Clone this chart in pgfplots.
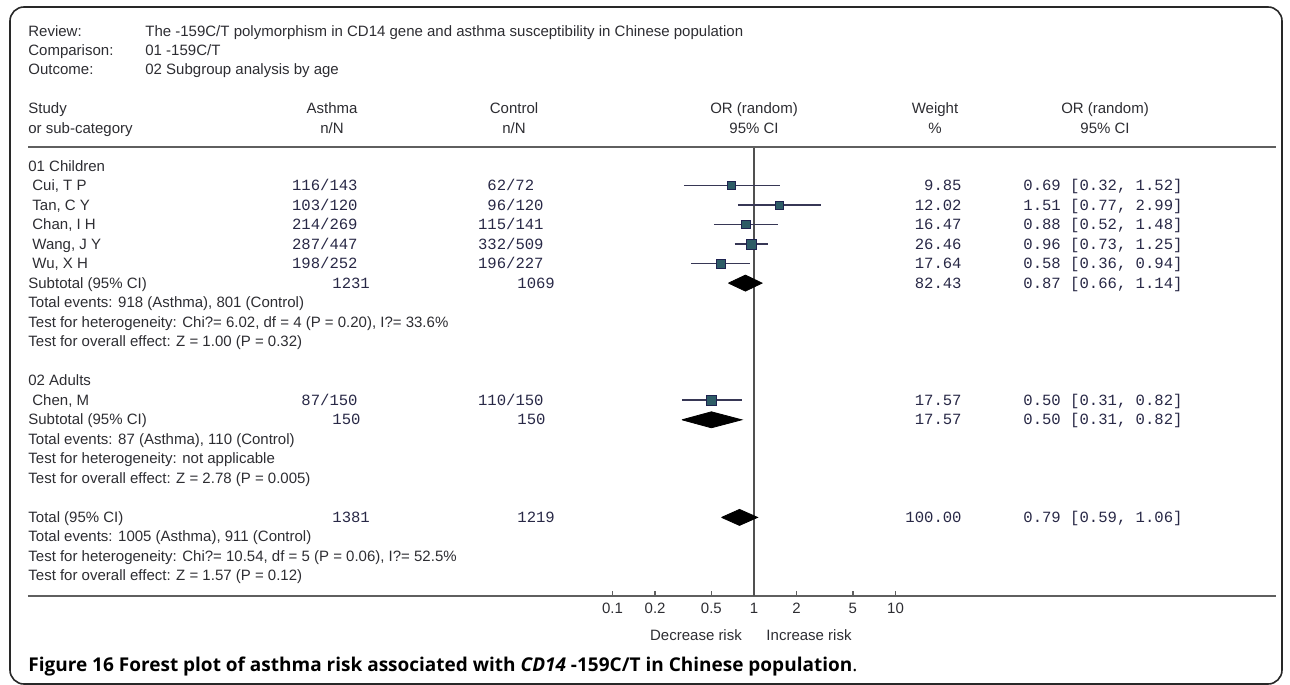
\documentclass[border=0pt]{standalone}
\usepackage{fontspec}
\setmainfont{Liberation Sans}
\newfontfamily\monofont{Liberation Mono}
\newfontfamily\capfont{Open Sans}
\usepackage{pgfplots}
\pgfplotsset{compat=1.18}

\definecolor{txt}{RGB}{45,45,50}
\definecolor{num}{RGB}{40,40,70}
\definecolor{sqfill}{RGB}{45,92,102}
\definecolor{sqdraw}{RGB}{30,35,80}
\definecolor{cil}{RGB}{55,55,85}
\definecolor{axl}{RGB}{95,95,95}
\definecolor{vline}{RGB}{80,80,80}
\definecolor{framec}{RGB}{40,40,40}

\newcommand{\tf}{\fontsize{7.5pt}{9pt}\selectfont}
\newcommand{\nf}{\monofont\fontsize{7.8pt}{9pt}\selectfont}
\newcommand{\Lt}[3]{\node[anchor=base west,inner sep=0pt,text=txt,font=\tf] at ({#1},{#2+5}) {#3};}
\newcommand{\Ct}[3]{\node[anchor=base,inner sep=0pt,text=txt,font=\tf] at ({#1},{#2+5}) {#3};}
\newcommand{\Rn}[3]{\node[anchor=base east,inner sep=0pt,text=num,font=\nf] at ({#1},{#2+5}) {#3};}
\newcommand{\Ln}[3]{\node[anchor=base west,inner sep=0pt,text=num,font=\nf] at ({#1},{#2+5}) {#3};}

\begin{document}
\begin{tikzpicture}
\useasboundingbox (0pt,0pt) rectangle (645pt,-342.5pt);

\begin{axis}[
  at={(14pt,-298pt)}, anchor=south west,
  scale only axis, width=624pt, height=224.5pt,
  xmode=log, xmin=7.40e-6, xmax=4887,
  ymin=-596, ymax=-147,
  axis y line=none,
  axis x line*=bottom,
  x axis line style={-, line width=1.2pt, color=axl},
  xtick={0.1,0.2,0.5,1,2,5,10},
  xticklabels={0.1,0.2,0.5,1,2,5,10},
  xminorticks=false,
  xtick align=inside,
  major tick length=2.5pt,
  xtick style={color=axl, line width=0.6pt},
  xticklabel style={font=\tf, text=txt, anchor=base, inner sep=0pt, yshift=-8.75pt},
  ytick=\empty,
  clip=false,
]
% line of no effect
\addplot[vline, line width=0.75pt] coordinates {(1,-147) (1,-596)};

% Cui, T P
\addplot[cil, line width=0.8pt] coordinates {(0.32,-185.5) (1.52,-185.5)};
\addplot[only marks, mark=square*, mark size=1.875pt, mark options={fill=sqfill, draw=sqdraw, line width=0.4pt}] coordinates {(0.69,-185.5)};
% Tan, C Y
\addplot[cil, line width=0.8pt] coordinates {(0.77,-205) (2.99,-205)};
\addplot[only marks, mark=square*, mark size=2pt, mark options={fill=sqfill, draw=sqdraw, line width=0.4pt}] coordinates {(1.51,-205)};
% Chan, I H
\addplot[cil, line width=0.8pt] coordinates {(0.52,-224.6) (1.48,-224.6)};
\addplot[only marks, mark=square*, mark size=2.125pt, mark options={fill=sqfill, draw=sqdraw, line width=0.4pt}] coordinates {(0.88,-224.6)};
% Wang, J Y
\addplot[cil, line width=0.8pt] coordinates {(0.73,-244.1) (1.25,-244.1)};
\addplot[only marks, mark=square*, mark size=2.5pt, mark options={fill=sqfill, draw=sqdraw, line width=0.4pt}] coordinates {(0.96,-244.1)};
% Wu, X H
\addplot[cil, line width=0.8pt] coordinates {(0.36,-263.6) (0.94,-263.6)};
\addplot[only marks, mark=square*, mark size=2.25pt, mark options={fill=sqfill, draw=sqdraw, line width=0.4pt}] coordinates {(0.58,-263.6)};
% Subtotal children
\addplot[fill=black, draw=black] coordinates {(0.66,-283.1) (0.87,-275.1) (1.14,-283.1) (0.87,-291.1) (0.66,-283.1)};

% Chen, M
\addplot[cil, line width=0.8pt] coordinates {(0.31,-400.2) (0.82,-400.2)};
\addplot[only marks, mark=square*, mark size=2.375pt, mark options={fill=sqfill, draw=sqdraw, line width=0.4pt}] coordinates {(0.50,-400.2)};
% Subtotal adults
\addplot[fill=black, draw=black] coordinates {(0.31,-419.8) (0.50,-411.8) (0.82,-419.8) (0.50,-427.8) (0.31,-419.8)};

% Total
\addplot[fill=black, draw=black] coordinates {(0.59,-517.4) (0.79,-509.4) (1.06,-517.4) (0.79,-525.4) (0.59,-517.4)};
\end{axis}

\begin{scope}[x=0.5pt,y=-0.5pt]
\draw[framec, line width=0.8pt, rounded corners=7pt] (10,7) rectangle (1282,684);
\draw[axl, line width=1.2pt] (28,147) -- (1276,147);

\Lt{28}{31}{Review:} \Lt{145}{31}{The -159C/T polymorphism in CD14 gene and asthma susceptibility in Chinese population}
\Lt{28}{50}{Comparison:} \Lt{145}{50}{01 -159C/T}
\Lt{28}{69}{Outcome:} \Lt{145}{69}{02 Subgroup analysis by age}

\Lt{28}{108}{Study} \Lt{28}{128}{or sub-category}
\Ct{332}{108}{Asthma} \Ct{332}{128}{n/N}
\Ct{514}{108}{Control} \Ct{514}{128}{n/N}
\Ct{754}{108}{OR (random)} \Ct{754}{128}{95\% CI}
\Ct{935}{108}{Weight} \Ct{935}{128}{\%}
\Ct{1105}{108}{OR (random)} \Ct{1105}{128}{95\% CI}

\Lt{28}{166}{01 Children}
\Lt{32}{185.5}{Cui, T P}   \Rn{358}{185.5}{116/143} \Ln{487}{185.5}{62/72}   \Rn{962}{185.5}{9.85}  \Ln{1023}{185.5}{0.69 [0.32, 1.52]}
\Lt{32}{205}{Tan, C Y}     \Rn{358}{205}{103/120}   \Rn{544}{205}{96/120}    \Rn{962}{205}{12.02}   \Ln{1023}{205}{1.51 [0.77, 2.99]}
\Lt{32}{224.6}{Chan, I H}  \Rn{358}{224.6}{214/269} \Rn{544}{224.6}{115/141} \Rn{962}{224.6}{16.47} \Ln{1023}{224.6}{0.88 [0.52, 1.48]}
\Lt{32}{244.1}{Wang, J Y}  \Rn{358}{244.1}{287/447} \Rn{544}{244.1}{332/509} \Rn{962}{244.1}{26.46} \Ln{1023}{244.1}{0.96 [0.73, 1.25]}
\Lt{32}{263.6}{Wu, X H}    \Rn{358}{263.6}{198/252} \Rn{544}{263.6}{196/227} \Rn{962}{263.6}{17.64} \Ln{1023}{263.6}{0.58 [0.36, 0.94]}
\Lt{28}{283.1}{Subtotal (95\% CI)} \Ln{332}{283.1}{1231} \Ln{517}{283.1}{1069} \Rn{962}{283.1}{82.43} \Ln{1023}{283.1}{0.87 [0.66, 1.14]}
\Lt{28}{302.6}{Total events: 918 (Asthma), 801 (Control)}
\Lt{28}{322.2}{Test for heterogeneity: Chi?= 6.02, df = 4 (P = 0.20), I?= 33.6\%}
\Lt{28}{341.7}{Test for overall effect: Z = 1.00 (P = 0.32)}

\Lt{28}{380.7}{02 Adults}
\Lt{32}{400.2}{Chen, M}    \Rn{358}{400.2}{87/150}  \Rn{544}{400.2}{110/150} \Rn{962}{400.2}{17.57} \Ln{1023}{400.2}{0.50 [0.31, 0.82]}
\Lt{28}{419.8}{Subtotal (95\% CI)} \Ln{332}{419.8}{150} \Ln{517}{419.8}{150} \Rn{962}{419.8}{17.57} \Ln{1023}{419.8}{0.50 [0.31, 0.82]}
\Lt{28}{439.3}{Total events: 87 (Asthma), 110 (Control)}
\Lt{28}{458.8}{Test for heterogeneity: not applicable}
\Lt{28}{478.3}{Test for overall effect: Z = 2.78 (P = 0.005)}

\Lt{28}{517.4}{Total (95\% CI)} \Ln{332}{517.4}{1381} \Ln{517}{517.4}{1219} \Rn{962}{517.4}{100.00} \Ln{1023}{517.4}{0.79 [0.59, 1.06]}
\Lt{28}{536.9}{Total events: 1005 (Asthma), 911 (Control)}
\Lt{28}{556.4}{Test for heterogeneity: Chi?= 10.54, df = 5 (P = 0.06), I?= 52.5\%}
\Lt{28}{575.9}{Test for overall effect: Z = 1.57 (P = 0.12)}

\Ct{696}{635}{Decrease risk}
\Ct{809}{635}{Increase risk}

\node[anchor=base west, inner sep=0pt, text=black] at (28,671.5)
  {\capfont\fontsize{9.5pt}{11pt}\selectfont\bfseries Figure 16 Forest plot of asthma risk associated with \textit{CD14} -159C/T in Chinese population\mdseries.};
\end{scope}
\end{tikzpicture}
\end{document}
